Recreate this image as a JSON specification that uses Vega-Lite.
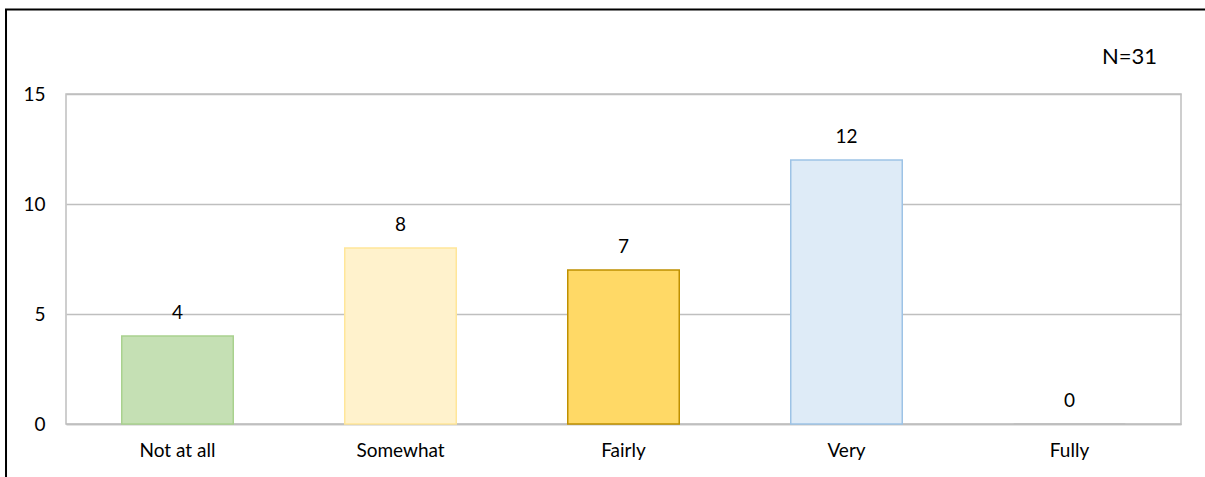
{
  "$schema": "https://vega.github.io/schema/vega-lite/v6.json",
  "width": 1115,
  "height": 330,
  "autosize": "none",
  "padding": {"left": 66, "top": 94, "right": 24, "bottom": 53},
  "background": "white",
  "config": {
    "font": "Lato",
    "view": {"stroke": "#BFBFBF", "strokeWidth": 1.5},
    "axis": {
      "labelFont": "Lato",
      "labelFontSize": 19,
      "labelColor": "#000000"
    }
  },
  "layer": [
    {
      "data": {
        "values": [
          {"level": "Not at all", "count": 4},
          {"level": "Somewhat", "count": 8},
          {"level": "Fairly", "count": 7},
          {"level": "Very", "count": 12},
          {"level": "Fully", "count": 0}
        ]
      },
      "encoding": {
        "x": {
          "field": "level",
          "type": "nominal",
          "sort": null,
          "title": null,
          "scale": {"paddingInner": 0.5, "paddingOuter": 0.25},
          "axis": {
            "labelAngle": 0,
            "ticks": false,
            "domain": true,
            "domainColor": "#BFBFBF",
            "domainWidth": 1.5,
            "labelPadding": 17
          }
        },
        "y": {
          "field": "count",
          "type": "quantitative",
          "title": null,
          "scale": {"domain": [0, 15], "nice": false},
          "axis": {
            "values": [0, 5, 10, 15],
            "ticks": false,
            "domain": false,
            "grid": true,
            "gridColor": "#BFBFBF",
            "gridWidth": 1.5,
            "labelPadding": 21
          }
        }
      },
      "layer": [
        {
          "mark": {"type": "bar", "strokeWidth": 1.5},
          "encoding": {
            "fill": {
              "field": "level",
              "type": "nominal",
              "legend": null,
              "scale": {
                "domain": ["Not at all", "Somewhat", "Fairly", "Very", "Fully"],
                "range": ["#C5E0B4", "#FFF2CC", "#FFD966", "#DEEBF7", "#FFFFFF"]
              }
            },
            "stroke": {
              "field": "level",
              "type": "nominal",
              "legend": null,
              "scale": {
                "domain": ["Not at all", "Somewhat", "Fairly", "Very", "Fully"],
                "range": ["#A9D18E", "#FFE699", "#BF9000", "#9DC3E6", "#BFBFBF"]
              }
            }
          }
        },
        {
          "mark": {"type": "text", "baseline": "bottom", "dy": -13, "fontSize": 19, "fontWeight": "normal", "font": "Lato", "color": "#000000"},
          "encoding": {
            "text": {"field": "count", "type": "quantitative"}
          }
        }
      ]
    },
    {
      "data": {"values": [{"note": "N=31"}]},
      "layer": [
        {
          "mark": {"type": "rect", "fill": null, "stroke": "#000000", "strokeWidth": 2},
          "encoding": {
            "x": {"datum": -0.0538, "type": "quantitative", "scale": {"domain": [0, 1], "nice": false, "zero": false}, "axis": null},
            "x2": {"datum": 1.1},
            "y": {"datum": 18.84, "type": "quantitative"},
            "y2": {"datum": -4}
          }
        },
        {
          "mark": {"type": "text", "align": "right", "baseline": "middle", "fontSize": 22, "fontWeight": 400, "font": "Lato", "color": "#000000"},
          "encoding": {
            "x": {"datum": 0.9785, "type": "quantitative", "axis": null},
            "y": {"datum": 16.68, "type": "quantitative"},
            "text": {"field": "note", "type": "nominal"}
          }
        }
      ]
    }
  ],
  "resolve": {"scale": {"x": "independent"}}
}
